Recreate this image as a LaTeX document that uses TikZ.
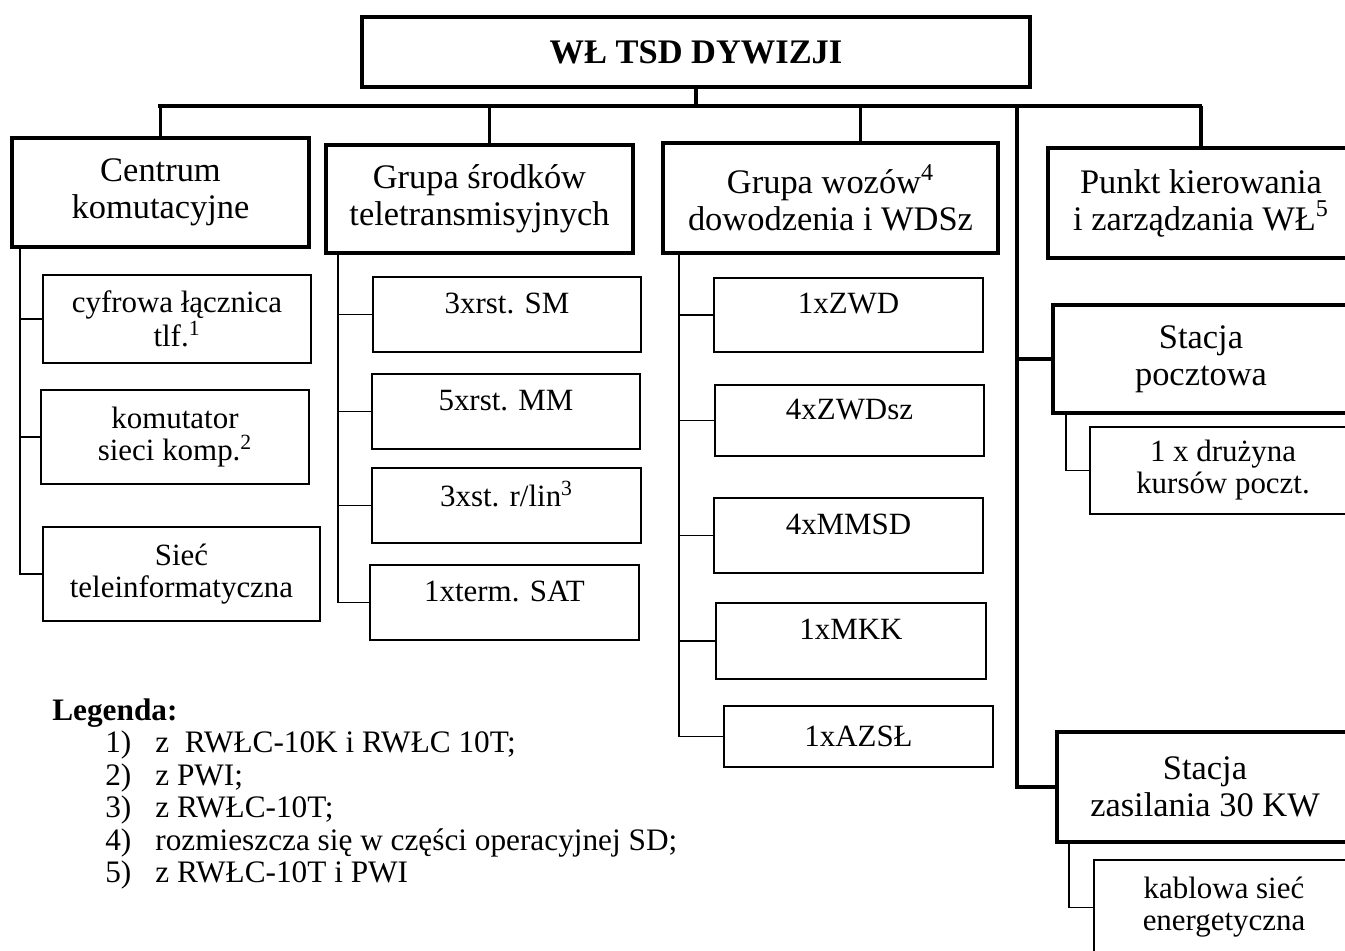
\documentclass[tikz,border=0pt]{standalone}
\usepackage{fontspec}
\setmainfont{Liberation Serif}
\usetikzlibrary{
	positioning				% relative placement
	, calc
}

\begin{document}
\begin{tikzpicture}[
		x=0.02cm, y=-0.02cm
		, boxsize/.style 2 args={minimum width=#1cm, minimum height=#2cm}
		, unit/.style={draw, line width=2.2pt, inner sep=0pt, align=center,
			font=\fontsize{19.6}{21}\selectfont}
		, subunit/.style={draw, line width=1.1pt, inner sep=0pt, align=center,
			font=\fontsize{17.6}{18.2}\selectfont}
		, lift/.style={text depth=0.45cm}
		, legend/.style={anchor=base west, inner sep=0pt, font=\fontsize{17.8}{18.5}\selectfont}
		, bus/.style={line width=2.2pt}
		, link/.style={line width=1.1pt}
	]

	% Fix the page to the size of the original picture
	\useasboundingbox (0,0) rectangle (1345,950);
	\clip (0,0) rectangle (1345,950);

	% Head of the structure
	\node [unit, boxsize={13.36}{1.4}, font=\fontsize{19.6}{21}\selectfont\bfseries] (wltsd) at (696,52) {WŁ TSD DYWIZJI};

	% First level units
	\node [unit, boxsize={5.94}{2.18}] (centrum) at (160.5,192.5) {Centrum\\komutacyjne};
	\node [unit, boxsize={6.14}{2.16}] (grupasrodkow) at (479.5,199) {Grupa środków\\teletransmisyjnych};
	\node [unit, boxsize={6.7}{2.2}] (grupawozow) at (830.5,198) {Grupa wozów\textsuperscript{4}\\dowodzenia i WDSz};
	\node [unit, boxsize={6.12}{2.2}] (punkt) at (1201,203) {Punkt kierowania\\i zarządzania WŁ\textsuperscript{5}};
	\node [unit, boxsize={5.92}{2.16}] (pocztowa) at (1201,359) {Stacja\\pocztowa};
	\node [unit, boxsize={5.92}{2.2}] (zasilania) at (1205,787) {Stacja\\zasilania 30 KW};

	% Centrum komutacyjne
	\node [subunit, boxsize={5.36}{1.76}] (cyfrowa) at (177,319) {cyfrowa łącznica\\tlf.\textsuperscript{1}};
	\node [subunit, boxsize={5.36}{1.88}] (komutator) at (175,437) {komutator\\sieci komp.\textsuperscript{2}};
	\node [subunit, boxsize={5.54}{1.88}] (siec) at (181.5,574) {Sieć\\teleinformatyczna};

	% Grupa srodkow teletransmisyjnych
	\node [subunit, lift, boxsize={5.36}{1.5}] (rstsm) at (507,314.5) {3xrst. SM};
	\node [subunit, lift, boxsize={5.36}{1.5}] (rstmm) at (506,411.5) {5xrst. MM};
	\node [subunit, lift, boxsize={5.38}{1.5}] (strlin) at (506.5,505.5) {3xst. r/lin\textsuperscript{3}};
	\node [subunit, lift, boxsize={5.38}{1.5}] (termsat) at (504.5,602.5) {1xterm. SAT};

	% Grupa wozow dowodzenia
	\node [subunit, lift, boxsize={5.38}{1.48}] (zwd) at (848.5,315) {1xZWD};
	\node [subunit, lift, boxsize={5.38}{1.42}] (zwdsz) at (849.5,420.5) {4xZWDsz};
	\node [subunit, lift, boxsize={5.38}{1.5}] (mmsd) at (848.5,535.5) {4xMMSD};
	\node [subunit, lift, boxsize={5.4}{1.52}] (mkk) at (851,641) {1xMKK};
	\node [subunit, boxsize={5.38}{1.22}] (azsl) at (858.5,736.5) {1xAZSŁ};

	% Stations on the right
	\node [subunit, boxsize={5.32}{1.74}] (druzyna) at (1223,470.5) {1 x drużyna\\kursów poczt.};
	\node [subunit, boxsize={5.2}{1.9}] (kablowa) at (1224,907.5) {kablowa sieć\\energetyczna};

	% Main bus below the head
	\coordinate (busleft) at (158,106);
	\coordinate (busright) at (1202,106);
	\coordinate (spinetop) at (1017,106);
	\draw [bus] (busleft) -- (busright);
	\draw [bus] (wltsd.south) -- (wltsd.south |- busleft);
	\draw [bus] (centrum.north) -- (centrum.north |- busleft);
	\draw [bus] ([xshift=0.2cm]grupasrodkow.north) -- ([xshift=0.2cm]grupasrodkow.north |- busleft);
	\draw [bus] ([xshift=0.6cm]grupawozow.north) -- ([xshift=0.6cm]grupawozow.north |- busleft);
	\draw [bus] (punkt.north) -- (punkt.north |- busright);
	\draw [bus] (spinetop) |- (zasilania.west);
	\draw [bus] (spinetop |- pocztowa.west) -- (pocztowa.west);

	% Links from each unit to its subunits
	\foreach \child in {cyfrowa,komutator,siec}
		\draw [link] ([xshift=0.2cm]centrum.south west) |- (\child.west);
	\foreach \child in {rstsm,rstmm,strlin,termsat}
		\draw [link] ([xshift=0.28cm]grupasrodkow.south west) |- (\child.west);
	\foreach \child in {zwd,zwdsz,mmsd,mkk,azsl}
		\draw [link] ([xshift=0.36cm]grupawozow.south west) |- (\child.west);
	\draw [link] ([xshift=0.3cm]pocztowa.south west) |- (druzyna.west);
	\draw [link] ([xshift=0.28cm]zasilania.south west) |- (kablowa.west);

	% Legend
	\node [legend, font=\fontsize{17.8}{18.5}\selectfont\bfseries] (legenda) at (52,720) {Legenda:};
	\foreach [count=\i] \note in {{z\ \ RWŁC-10K i RWŁC 10T;}, {z PWI;}, {z RWŁC-10T;},
		{rozmieszcza się w części operacyjnej SD;}, {z RWŁC-10T i PWI}} {
		\node [legend] (nr\i) at (105,{720+32.5*\i}) {\i)};
		\node [legend] (note\i) at (155,{720+32.5*\i}) {\note};
	}
\end{tikzpicture}
\end{document}
